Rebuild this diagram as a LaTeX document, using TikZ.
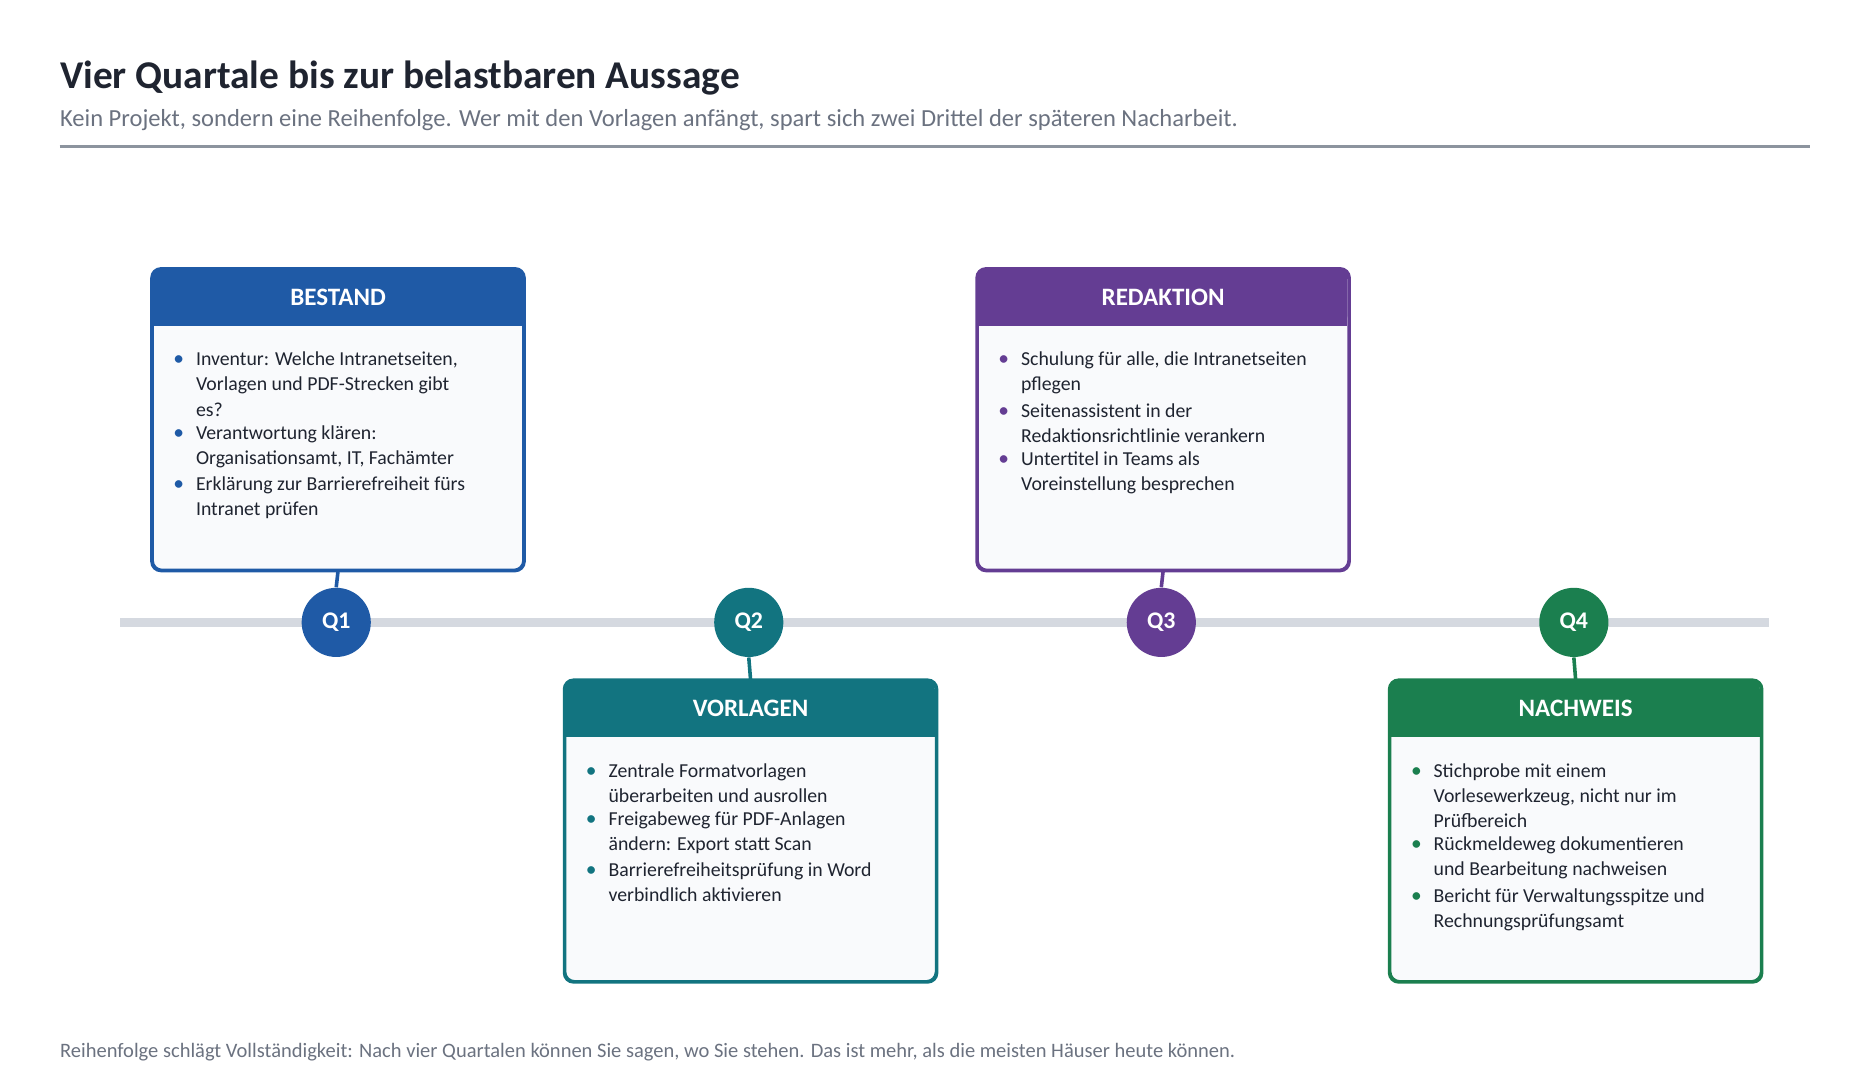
\documentclass[tikz,border=0pt]{standalone}
\usepackage{fontspec}
\setmainfont{Carlito}
\usetikzlibrary{positioning}
\definecolor{cblue}{HTML}{1F5AA6}
\definecolor{cteal}{HTML}{127480}
\definecolor{cpurple}{HTML}{643D93}
\definecolor{cgreen}{HTML}{1B7F4F}
\definecolor{ink}{HTML}{1F2430}
\definecolor{muted}{HTML}{6B7280}
\definecolor{rulegray}{HTML}{8C949E}
\definecolor{track}{HTML}{D5D9E0}
\definecolor{boxfill}{HTML}{F9FAFC}
\tikzset{
  box/.style={draw=#1, line width=1pt, fill=boxfill, rounded corners=4pt,
    minimum width=155.5pt, minimum height=126pt, anchor=north west, inner sep=0pt},
  head/.style={text=white, font=\fontsize{10.5}{12}\selectfont\bfseries},
  quarter/.style={circle, fill=#1, text=white, minimum size=29pt, inner sep=0pt,
    font=\fontsize{10}{12}\selectfont\bfseries},
  stem/.style={draw=#1, line width=1.5pt},
  item/.style={inner sep=0pt, align=left, anchor=north west, text=ink,
    font=\fontsize{8.3}{10.5}\selectfont},
}
\newcommand{\dotc}[1]{\llap{\textcolor{#1}{\fontsize{9}{10}\selectfont•}\hspace{5pt}}}
\newcommand{\phasebox}[5]{% id, x, y, colour, title
  \node[box=#4] (#1) at (#2,#3) {};
  \fill[#4, rounded corners=4pt] (#1.north west) rectangle ++(155.5pt,-24pt);
  \fill[#4] ([yshift=-12pt]#1.north west) rectangle ++(155.5pt,-12pt);
  \draw[#4, line width=1pt, rounded corners=4pt] (#1.north west) rectangle (#1.south east);
  \node[head] (#1h) at ([yshift=-12pt]#1.north) {#5};
}
\begin{document}
\begin{tikzpicture}[x=0.5pt, y=-0.5pt]
  \useasboundingbox (0,0) rectangle (1560,906);
  % title
  \node[anchor=base west, inner sep=0pt, text=ink, font=\fontsize{16.5}{20}\selectfont\bfseries] (title) at (50,74) {Vier Quartale bis zur belastbaren Aussage};
  \node[anchor=base west, inner sep=0pt, text=muted, font=\fontsize{10.3}{12}\selectfont] (sub) at (50,106) {Kein Projekt, sondern eine Reihenfolge. Wer mit den Vorlagen anfängt, spart sich zwei Drittel der späteren Nacharbeit.};
  \coordinate (r1) at (50,123);
  \coordinate (r2) at (1518,123);
  \draw[rulegray, line width=1pt] (r1) -- (r2);
  % timeline
  \coordinate (t1) at (101,522);
  \coordinate (t2) at (1484,522);
  \draw[track, line width=4pt] (t1) -- (t2);
  \node[quarter=cblue] (q1) at (282,522) {Q1};
  \node[quarter=cteal] (q2) at (628,522) {Q2};
  \node[quarter=cpurple] (q3) at (974,522) {Q3};
  \node[quarter=cgreen] (q4) at (1320,522) {Q4};
  % boxes
  \phasebox{b1}{127}{225}{cblue}{BESTAND}
  \phasebox{b2}{473}{570}{cteal}{VORLAGEN}
  \phasebox{b3}{819}{225}{cpurple}{REDAKTION}
  \phasebox{b4}{1165}{570}{cgreen}{NACHWEIS}
  \draw[stem=cblue] (b1.south) -- (q1.north);
  \draw[stem=cteal] (q2.south) -- (b2.north);
  \draw[stem=cpurple] (b3.south) -- (q3.north);
  \draw[stem=cgreen] (q4.south) -- (b4.north);
  % items
  \node[item] (b1a) at (164,295) {\dotc{cblue}Inventur: Welche Intranetseiten,\\Vorlagen und PDF-Strecken gibt\\es?};
  \node[item, below=3.5pt of b1a.south west, anchor=north west] (b1b) {\dotc{cblue}Verantwortung klären:\\Organisationsamt, IT, Fachämter};
  \node[item, below=3.5pt of b1b.south west, anchor=north west] (b1c) {\dotc{cblue}Erklärung zur Barrierefreiheit fürs\\Intranet prüfen};
  \node[item] (b2a) at (510,640) {\dotc{cteal}Zentrale Formatvorlagen\\überarbeiten und ausrollen};
  \node[item, below=3.5pt of b2a.south west, anchor=north west] (b2b) {\dotc{cteal}Freigabeweg für PDF-Anlagen\\ändern: Export statt Scan};
  \node[item, below=3.5pt of b2b.south west, anchor=north west] (b2c) {\dotc{cteal}Barrierefreiheitsprüfung in Word\\verbindlich aktivieren};
  \node[item] (b3a) at (856,295) {\dotc{cpurple}Schulung für alle, die Intranetseiten\\pflegen};
  \node[item, below=3.5pt of b3a.south west, anchor=north west] (b3b) {\dotc{cpurple}Seitenassistent in der\\Redaktionsrichtlinie verankern};
  \node[item, below=3.5pt of b3b.south west, anchor=north west] (b3c) {\dotc{cpurple}Untertitel in Teams als\\Voreinstellung besprechen};
  \node[item] (b4a) at (1202,640) {\dotc{cgreen}Stichprobe mit einem\\Vorlesewerkzeug, nicht nur im\\Prüfbereich};
  \node[item, below=3.5pt of b4a.south west, anchor=north west] (b4b) {\dotc{cgreen}Rückmeldeweg dokumentieren\\und Bearbeitung nachweisen};
  \node[item, below=3.5pt of b4b.south west, anchor=north west] (b4c) {\dotc{cgreen}Bericht für Verwaltungsspitze und\\Rechnungsprüfungsamt};
  % footer
  \node[anchor=base west, inner sep=0pt, text=muted, font=\fontsize{8.6}{10}\selectfont] (foot) at (50,887) {Reihenfolge schlägt Vollständigkeit: Nach vier Quartalen können Sie sagen, wo Sie stehen. Das ist mehr, als die meisten Häuser heute können.};
\end{tikzpicture}
\end{document}
